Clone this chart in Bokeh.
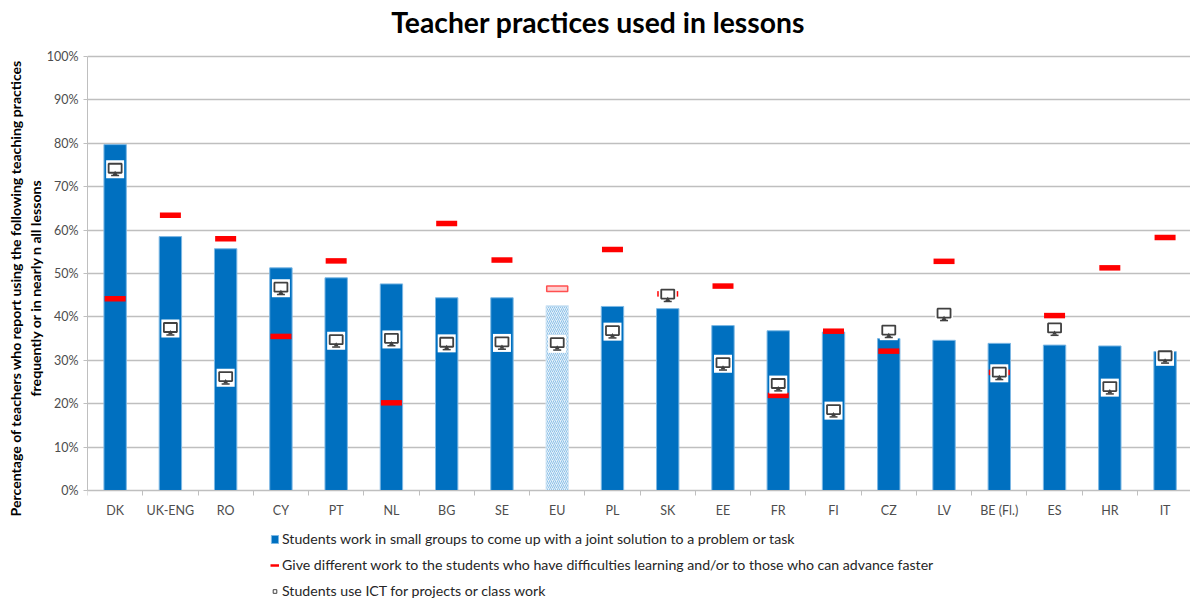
from bokeh.embed import file_html
from bokeh.resources import INLINE
from bokeh.plotting import figure
from bokeh.models import ColumnDataSource, FixedTicker, Label, Legend, LegendItem, PrintfTickFormatter, Range1d, Title
from bokeh.transform import dodge

title = "Teacher practices used in lessons"
y_label_1 = "Percentage of teachers who report using the following teaching practices"
y_label_2 = "frequently or in nearly n all lessons"
categories = ["DK","UK-ENG","RO","CY","PT","NL","BG","SE","EU","PL","SK","EE","FR","FI","CZ","LV","BE (Fl.)","ES","HR","IT"]
small_groups = [79.7,58.5,55.7,51.3,49.0,47.6,44.4,44.4,42.6,42.4,41.9,38.0,36.8,36.5,35.0,34.6,33.9,33.5,33.3,32.0]
different_work = [44.2,63.4,58.0,35.5,52.9,20.2,61.5,53.1,46.5,55.5,45.3,47.1,21.9,36.7,32.1,52.8,27.2,40.3,51.3,58.3]
ict_use = [74.0,37.3,26.0,46.6,34.5,34.8,33.9,34.0,33.8,36.6,45.0,29.2,24.4,18.4,36.7,40.6,27.0,37.2,23.7,30.8]
legend_labels = ["Students work in small groups to come up with a joint solution to a problem or task",
                 "Give different work to the students who have difficulties learning and/or to those who can advance faster",
                 "Students use ICT for projects or class work"]
FONT = "Lato"
BLUE = "#0070C0"
EDGE = "#7DB8E4"
RED = "#FF0000"
DARK = "#404040"
GREY = "#4D4D4D"
GRID = "#BFBFBF"
NAN = float("nan")

pos = list(range(len(categories)))
main = [i for i, c in enumerate(categories) if c != "EU"]
avg = [i for i, c in enumerate(categories) if c == "EU"]
def cds(idx):
    return ColumnDataSource(dict(x=[pos[i] for i in idx], bar=[small_groups[i] for i in idx],
                                 red=[different_work[i] for i in idx], ict=[ict_use[i] for i in idx]))
src_main, src_avg, src_all = cds(main), cds(avg), cds(pos)

p = figure(width=1190, height=601, output_backend="svg", toolbar_location=None,
           x_range=Range1d(-0.5, 19.46), y_range=Range1d(-25.58, 112.9),
           min_border_left=87, min_border_right=0, min_border_top=0, min_border_bottom=0)
p.frame_width = 1103
p.frame_height = 601
p.outline_line_color = None
p.background_fill_color = "white"

p.add_layout(Label(x=8.74, y=108.05, text=title, text_align="center", text_baseline="middle",
                   text_font=FONT, text_font_size="28.3px", text_font_style="bold", text_color="black"))

p.xgrid.visible = False
p.ygrid.grid_line_color = GRID
p.ygrid.grid_line_width = 1.3
p.yaxis.ticker = FixedTicker(ticks=list(range(0, 101, 10)))
p.yaxis.bounds = (0, 100)
p.yaxis.formatter = PrintfTickFormatter(format="%d%%")
p.yaxis.major_label_text_font = FONT
p.yaxis.major_label_text_font_size = "12.5px"
p.yaxis.major_label_text_color = GREY
p.yaxis.axis_line_color = GRID
p.yaxis.major_tick_line_color = GRID
p.yaxis.major_tick_in = 0
p.yaxis.major_tick_out = 4
p.yaxis.minor_tick_line_color = None

p.xaxis.fixed_location = 0
p.xaxis.ticker = FixedTicker(ticks=pos, minor_ticks=[i - 0.5 for i in pos] + [pos[-1] + 0.5])
p.xaxis.major_label_overrides = {i: c for i, c in zip(pos, categories)}
p.xaxis.major_label_text_font = FONT
p.xaxis.major_label_text_font_size = "12.5px"
p.xaxis.major_label_text_color = GREY
p.xaxis.major_label_standoff = 7
p.xaxis.axis_line_color = GRID
p.xaxis.major_tick_line_color = None
p.xaxis.minor_tick_line_color = GRID
p.xaxis.minor_tick_in = 0
p.xaxis.minor_tick_out = 5

bars = p.vbar(x="x", top="bar", width=0.405, source=src_main, fill_color=BLUE, line_color=EDGE, line_width=1)
p.vbar(x="x", top="bar", width=0.405, source=src_avg, fill_color="#E3F0FA", line_color="#D5E7F5",
       hatch_pattern="right_diagonal_line", hatch_color="#8FC2E8", hatch_scale=4, hatch_weight=1)

p.rect(x="x", y="red", width=21, height=5.5, width_units="screen", height_units="screen",
       source=src_main, fill_color=RED, line_color=None)
p.rect(x="x", y="red", width=21, height=5.5, width_units="screen", height_units="screen",
       source=src_avg, fill_color="#FFD0D0", line_color="#FF5050", line_width=1.5)

p.rect(x="x", y="ict", width=18, height=18, width_units="screen", height_units="screen",
       source=src_all, fill_color="white", line_color=None)
p.rect(x="x", y=dodge("ict", 0.25), width=13, height=9, width_units="screen", height_units="screen",
       source=src_all, fill_color="white", line_color=DARK, line_width=1.8)
p.scatter(x="x", y=dodge("ict", -1.0), size=5, marker="triangle", source=src_all, fill_color=DARK, line_color=None)
p.rect(x="x", y=dodge("ict", -1.45), width=8, height=1.5, width_units="screen", height_units="screen",
       source=src_all, fill_color=DARK, line_color=None)

p.add_layout(Title(text=y_label_2, text_font=FONT, text_font_size="14.1px", text_font_style="bold",
                   text_color="black", align="left", offset=205, standoff=0), "left")
p.add_layout(Title(text=y_label_1, text_font=FONT, text_font_size="14.1px", text_font_style="bold",
                   text_color="black", align="left", offset=85, standoff=2), "left")

leg_red = p.line([NAN, NAN], [NAN, NAN], line_color=RED, line_width=2.5)
leg_ict = p.scatter([NAN], [NAN], marker="square", size=6, fill_color="white", line_color=DARK, line_width=1)
legend = Legend(items=[LegendItem(label=legend_labels[0], renderers=[bars]),
                       LegendItem(label=legend_labels[1], renderers=[leg_red]),
                       LegendItem(label=legend_labels[2], renderers=[leg_ict])],
                location=(183, 2), orientation="vertical", background_fill_alpha=0, border_line_color=None,
                glyph_width=9, glyph_height=10, label_standoff=3, spacing=9, padding=0, margin=0,
                label_text_font=FONT, label_text_font_size="14.15px", label_text_color="#262626")
p.add_layout(legend, "center")

open("out.html", "w").write(file_html(p, INLINE))
